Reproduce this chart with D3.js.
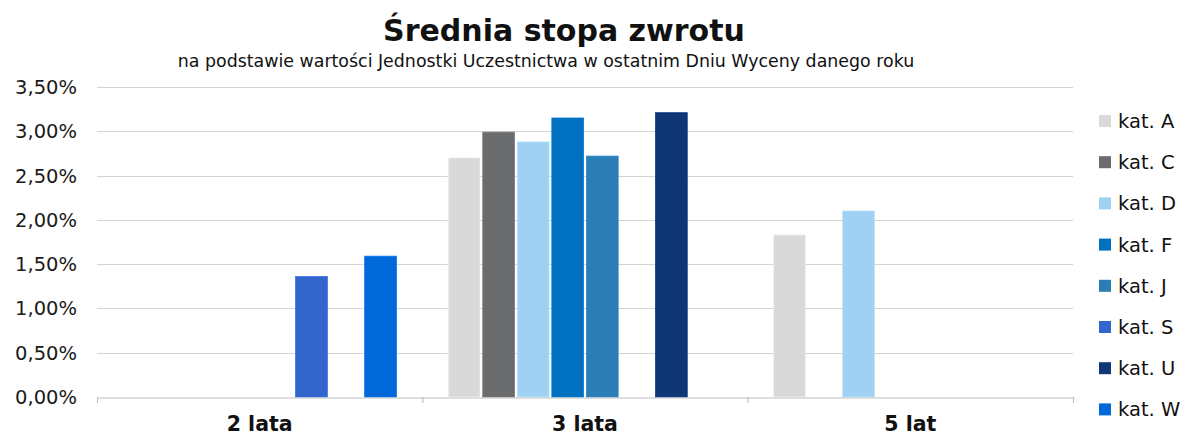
<!DOCTYPE html>
<html>
<head>
<meta charset="utf-8">
<script src="https://cdn.jsdelivr.net/npm/d3@7"></script>
<style>
  body { margin: 0; background: #fff; }
  svg { display: block; font-family: "DejaVu Sans", Verdana, sans-serif; }
</style>
</head>
<body>
<svg id="chart" width="1194" height="437"></svg>
<script>
var categories = ["2 lata", "3 lata", "5 lat"];
var seriesNames = ["kat. A", "kat. C", "kat. D", "kat. F", "kat. J", "kat. S", "kat. U", "kat. W"];
var seriesColors = ["#d9d9d9", "#6b6c6e", "#a0d1f2", "#0070c0", "#2a7db5", "#3366cc", "#0f3675", "#0068d8"];
// values in %, null = no bar
var valA = [null, 2.70, 1.83];
var valC = [null, 2.99, null];
var valD = [null, 2.88, 2.10];
var valF = [null, 3.15, null];
var valJ = [null, 2.72, null];
var valS = [1.36, null, null];
var valU = [null, 3.21, null];
var valW = [1.59, null, null];
var yTicks = [0, 0.5, 1, 1.5, 2, 2.5, 3, 3.5];

var allValues = [valA, valC, valD, valF, valJ, valS, valU, valW];

var svg = d3.select("#chart");
var plotLeft = 97, plotRight = 1073, plotTop = 87, plotBottom = 397;

var x0 = d3.scaleBand().domain(categories).range([plotLeft, plotRight]).padding(0);
var x1 = d3.scaleBand().domain(seriesNames)
		.range([24.5, x0.bandwidth() - 24.5]).paddingInner(0.08).paddingOuter(0.04);
var y = d3.scaleLinear().domain([0, 3.5]).range([plotBottom, plotTop]);

var fmt = function(v){ return v.toFixed(2).replace(".", ",") + "%"; };

// gridlines
svg.append("g")
	.selectAll("line")
	.data(yTicks.slice(1))
	.enter().append("line")
		.attr("x1", plotLeft).attr("x2", plotRight)
		.attr("y1", function(d){ return Math.round(y(d)) + 0.5; })
		.attr("y2", function(d){ return Math.round(y(d)) + 0.5; })
		.attr("stroke", "#d4d4d4").attr("stroke-width", 1.2);

// y labels
svg.append("g")
	.selectAll("text")
	.data(yTicks)
	.enter().append("text")
		.attr("x", 77).attr("y", function(d){ return y(d); })
		.attr("dy", "0.36em")
		.attr("text-anchor", "end")
		.attr("font-size", 19.5)
		.attr("fill", "#1a1a1a")
		.text(fmt);

// bars
var bars = [];
allValues.forEach(function(vals, si){
	vals.forEach(function(v, ci){
		if(v != null) bars.push({s: seriesNames[si], c: categories[ci], v: v, color: seriesColors[si]});
	});
});

svg.append("g")
	.selectAll("rect")
	.data(bars)
	.enter().append("rect")
		.attr("x", function(d){ return x0(d.c) + x1(d.s); })
		.attr("width", x1.bandwidth())
		.attr("y", function(d){ return y(d.v); })
		.attr("height", function(d){ return y(0) - y(d.v); })
		.attr("fill", function(d){ return d.color; })
		.attr("stroke", function(d){ return d3.color(d.color).brighter(0.3); })
		.attr("stroke-width", 0.8);

// x axis
var xAxis = d3.axisBottom(x0).tickSize(0).tickFormat("");
var ax = svg.append("g").attr("transform", "translate(0," + (plotBottom + 0.5) + ")").call(xAxis);
ax.select(".domain").attr("stroke", "#bfbfbf").attr("stroke-width", 1.2);
svg.append("g")
	.selectAll("line")
	.data(categories.map(function(c){ return x0(c); }).concat([plotRight]))
	.enter().append("line")
		.attr("x1", function(d){ return d + 0.5; }).attr("x2", function(d){ return d + 0.5; })
		.attr("y1", plotBottom).attr("y2", plotBottom + 6)
		.attr("stroke", "#bfbfbf").attr("stroke-width", 1.2);

svg.append("g")
	.selectAll("text")
	.data(categories)
	.enter().append("text")
		.attr("x", function(d){ return x0(d) + x0.bandwidth() / 2; })
		.attr("y", 431)
		.attr("text-anchor", "middle")
		.attr("font-size", 20.5)
		.attr("font-weight", "bold")
		.attr("fill", "#111")
		.text(function(d){ return d; });

// title
svg.append("text")
	.attr("x", 564).attr("y", 41)
	.attr("text-anchor", "middle")
	.attr("font-size", 30)
	.attr("font-weight", "bold")
	.attr("fill", "#111")
	.text("Średnia stopa zwrotu");

svg.append("text")
	.attr("x", 546).attr("y", 67)
	.attr("text-anchor", "middle")
	.attr("font-size", 17.4)
	.attr("fill", "#111")
	.text("na podstawie wartości Jednostki Uczestnictwa w ostatnim Dniu Wyceny danego roku");

// legend
var legend = svg.append("g")
	.selectAll("g")
	.data(seriesNames)
	.enter().append("g")
		.attr("transform", function(d, i){ return "translate(1099," + (121 + i * 41.2) + ")"; });
legend.append("rect")
	.attr("x", 0).attr("y", -6).attr("width", 12).attr("height", 12)
	.attr("fill", function(d, i){ return seriesColors[i]; });
legend.append("text")
	.attr("x", 19).attr("y", 0).attr("dy", "0.36em")
	.attr("font-size", 19.5)
	.attr("fill", "#111")
	.text(function(d){ return d; });
</script>
</body>
</html>
